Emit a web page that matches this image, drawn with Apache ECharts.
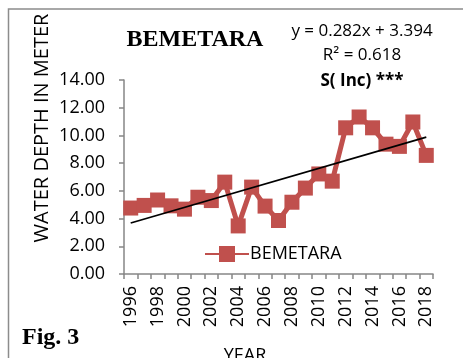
<!DOCTYPE html>
<html><head><meta charset="utf-8">
<script src="https://cdn.jsdelivr.net/npm/echarts@6/dist/echarts.min.js"></script>
<style>html,body{margin:0;padding:0;background:#fff}#c{width:463px;height:358px}</style>
</head><body><div id="c"></div>
<script>
const years = ['1996','1997','1998','1999','2000','2001','2002','2003','2004','2005','2006','2007','2008','2009','2010','2011','2012','2013','2014','2015','2016','2017','2018'];
const depth = [4.76,4.95,5.34,4.92,4.68,5.54,5.30,6.63,3.47,6.27,4.90,3.86,5.18,6.20,7.22,6.70,10.55,11.33,10.55,9.37,9.21,10.97,8.56];
const trendEnds = [3.68, 9.88];
const yTicks = [0,2,4,6,8,10,12,14];

const trend = years.map((y,i)=> i===0 ? trendEnds[0] : (i===years.length-1 ? trendEnds[1] : null));
const chart = echarts.init(document.getElementById('c'));
const sans = 'Open Sans';
chart.setOption({
  animation:false,
  grid:{left:124,right:30,top:80,bottom:84},
  graphic:[
    {type:'polyline',shape:{points:[[8.5,358],[8.5,9],[463,9]]},style:{stroke:'#8c8c8c',lineWidth:1.5,fill:null}},
    {type:'text',x:195,y:40,style:{text:'BEMETARA',font:'bold 24px "Liberation Serif"',fill:'#000',align:'center',verticalAlign:'middle'}},
    {type:'text',x:362,y:31,style:{text:'y = 0.282x + 3.394',font:'17px "'+sans+'"',fill:'#000',align:'center',verticalAlign:'middle'}},
    {type:'text',x:362,y:55,style:{text:'R² = 0.618',font:'17px "'+sans+'"',fill:'#000',align:'center',verticalAlign:'middle'}},
    {type:'text',x:362,y:81,style:{text:'S( Inc) ***',font:'bold 17px "'+sans+'"',fill:'#000',align:'center',verticalAlign:'middle'}},
    {type:'text',x:22,y:338,style:{text:'Fig. 3',font:'bold 24px "Liberation Serif"',fill:'#000',align:'left',verticalAlign:'middle'}},
    {type:'text',x:245,y:356,style:{text:'YEAR',font:'18px "'+sans+'"',fill:'#000',align:'center',verticalAlign:'middle'}},
    {type:'text',x:42,y:128,rotation:Math.PI/2,style:{text:'WATER DEPTH IN METER',font:'20px "'+sans+'"',fill:'#000',align:'center',verticalAlign:'middle'}}
  ],
  legend:{show:true,left:199,top:240,itemWidth:44,itemHeight:20,data:[{name:'BEMETARA'}],textStyle:{fontFamily:sans,fontSize:18,color:'#000',padding:[0,0,0,-4]}},
  xAxis:{type:'category',data:years,boundaryGap:true,
    axisLine:{lineStyle:{color:'#868686',width:1.5}},
    axisTick:{show:true,interval:0,length:5,lineStyle:{color:'#868686',width:1.5}},
    axisLabel:{interval:1,rotate:90,fontFamily:sans,fontSize:18,color:'#000',margin:12}},
  yAxis:{type:'value',min:0,max:14,interval:2,
    axisLine:{show:true,lineStyle:{color:'#868686',width:1.5}},
    axisTick:{show:true,length:5,lineStyle:{color:'#868686',width:1.5}},
    splitLine:{show:false},
    axisLabel:{fontFamily:sans,fontSize:18,color:'#000',margin:19,formatter:v=>v.toFixed(2)}},
  series:[
    {name:'BEMETARA',type:'line',data:depth,symbol:'rect',symbolSize:15,showAllSymbol:true,
     lineStyle:{color:'#C0504D',width:5},itemStyle:{color:'#C0504D'},z:2},
    {name:'trend',type:'line',data:trend,connectNulls:true,symbol:'none',
     lineStyle:{color:'#000',width:1.8},z:3}
  ]
});
</script></body></html>
